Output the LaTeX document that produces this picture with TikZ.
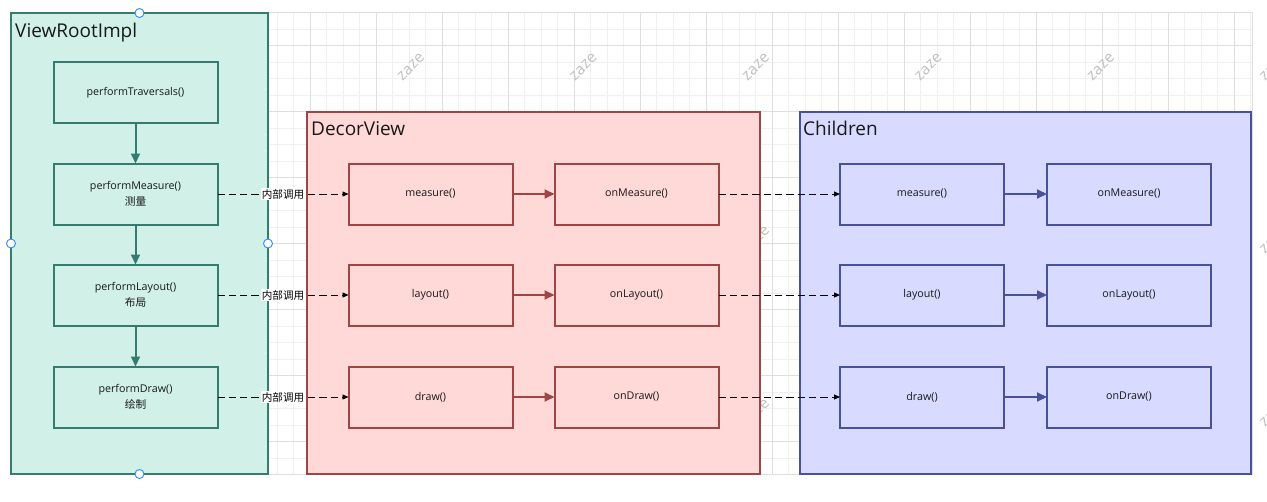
\documentclass[tikz,border=0pt]{standalone}
\usepackage{fontspec}
\setmainfont{Open Sans}
\newfontfamily\cjk{Noto Sans CJK SC}
\usetikzlibrary{arrows.meta}
\definecolor{gfill}{RGB}{208,240,232}
\definecolor{gline}{RGB}{52,125,110}
\definecolor{rfill}{RGB}{255,216,216}
\definecolor{rline}{RGB}{158,70,70}
\definecolor{bfill}{RGB}{216,219,255}
\definecolor{bline}{RGB}{72,82,155}
\definecolor{txt}{RGB}{25,25,25}
\definecolor{gridminor}{RGB}{240,240,240}
\definecolor{gridmajor}{RGB}{222,222,222}
\definecolor{wmark}{RGB}{192,192,192}
\definecolor{handle}{RGB}{40,140,255}
\tikzset{
  outerbox/.style={line width=2pt, minimum width=#1, inner sep=0pt, outer sep=0pt},
  inbox/.style={line width=2pt, minimum width=164pt, minimum height=61pt, inner sep=0pt, outer sep=0pt,
    align=center, text=txt, font=\fontsize{10.7}{15.7}\selectfont},
  gbox/.style={inbox, draw=gline, fill=gfill},
  rbox/.style={inbox, draw=rline, fill=rfill},
  bbox/.style={inbox, draw=bline, fill=bfill},
  title/.style={anchor=base west, inner sep=0pt, text=txt, font=\fontsize{19}{20}\selectfont},
  garrow/.style={draw=gline, line width=2pt, -{Triangle[length=10pt,width=9pt]}},
  rarrow/.style={draw=rline, line width=2pt, -{Triangle[length=10pt,width=9pt]}},
  barrow/.style={draw=bline, line width=2pt, -{Triangle[length=10pt,width=9pt]}},
  callarrow/.style={draw=black, line width=0.9pt, dash pattern=on 7.3pt off 4pt, -{Triangle[length=6pt,width=5pt]}},
  calllabel/.style={fill=white, inner sep=0.8pt, text=black, font=\cjk\fontsize{10.6}{12}\selectfont},
  wm/.style={text=wmark, rotate=45, inner sep=0pt, font=\fontsize{15.5}{15.5}\selectfont},
  handlestyle/.style={circle, draw=handle, fill=white, line width=0.9pt, minimum size=9pt, inner sep=0pt}
}
\begin{document}
\begin{tikzpicture}[x=1pt,y=-1pt]
\useasboundingbox (0,0) rectangle (1267,501);
\fill[white] (0,0) rectangle (1267,501);
% grid
\draw[gridminor, line width=0.8pt] foreach \k in {0,...,75} {({13+16.5*\k},12) -- ({13+16.5*\k},474)};
\draw[gridminor, line width=0.8pt] foreach \k in {0,...,28} {(11,{12.5+16.5*\k}) -- (1252,{12.5+16.5*\k})};
\draw[gridmajor, line width=0.8pt] foreach \k in {0,...,18} {({46+66*\k},12) -- ({46+66*\k},474)};
\draw[gridmajor, line width=0.8pt] foreach \k in {0,...,6} {(11,{45.5+66*\k}) -- (1252,{45.5+66*\k})};
\draw[gridmajor, line width=0.8pt] (11,12) rectangle (1252,474);
% watermarks
\foreach \c in {1,...,6} {\node[wm] (wma\c) at ({238.5+172.5*\c},67) {zaze};}
\node[wm] (wmb3) at (756,240) {zaze};
\node[wm] (wmb6) at (1273.5,240) {zaze};
\node[wm] (wmc3) at (756,413) {zaze};
\node[wm] (wmc6) at (1273.5,413) {zaze};
% containers
\node[outerbox=257pt, minimum height=461pt, draw=gline, fill=gfill] (vri) at (139.5,243.5) {};
\node[outerbox=453pt, minimum height=362pt, draw=rline, fill=rfill] (decor) at (533.5,293) {};
\node[outerbox=451pt, minimum height=362pt, draw=bline, fill=bfill] (children) at (1025.5,293) {};
\node[title] (vrititle) at (15,37) {ViewRootImpl};
\node[title] (decortitle) at (311,135.5) {DecorView};
\node[title] (childtitle) at (803,135.5) {Children};
% ViewRootImpl steps
\node[gbox] (pt) at (135.5,92.5) {performTraversals()};
\node[gbox] (pm) at (135.5,194) {performMeasure()\\{\cjk 测量}};
\node[gbox] (pl) at (135.5,295) {performLayout()\\{\cjk 布局}};
\node[gbox] (pd) at (135.5,397) {performDraw()\\{\cjk 绘制}};
\draw[garrow] (pt) -- (pm);
\draw[garrow] (pm) -- (pl);
\draw[garrow] (pl) -- (pd);
% DecorView
\node[rbox] (dm) at (430.5,194) {measure()};
\node[rbox] (dom) at (636.5,194) {onMeasure()};
\node[rbox] (dl) at (430.5,295) {layout()};
\node[rbox] (dol) at (636.5,295) {onLayout()};
\node[rbox] (dd) at (430.5,397) {draw()};
\node[rbox] (dod) at (636.5,397) {onDraw()};
\draw[rarrow] (dm) -- (dom);
\draw[rarrow] (dl) -- (dol);
\draw[rarrow] (dd) -- (dod);
% Children
\node[bbox] (cm) at (922,194) {measure()};
\node[bbox] (com) at (1129,194) {onMeasure()};
\node[bbox] (cl) at (922,295) {layout()};
\node[bbox] (col) at (1129,295) {onLayout()};
\node[bbox] (cd) at (922,397) {draw()};
\node[bbox] (cod) at (1129,397) {onDraw()};
\draw[barrow] (cm) -- (com);
\draw[barrow] (cl) -- (col);
\draw[barrow] (cd) -- (cod);
% internal calls
\draw[callarrow] (pm) -- node[calllabel] (lbl1) {内部调用} (dm);
\draw[callarrow] (pl) -- node[calllabel] (lbl2) {内部调用} (dl);
\draw[callarrow] (pd) -- node[calllabel] (lbl3) {内部调用} (dd);
\draw[callarrow] (dom) -- (cm);
\draw[callarrow] (dol) -- (cl);
\draw[callarrow] (dod) -- (cd);
% selection handles
\node[handlestyle] (h1) at (139.5,13) {};
\node[handlestyle] (h2) at (11,243.5) {};
\node[handlestyle] (h3) at (268,243.5) {};
\node[handlestyle] (h4) at (139.5,474) {};
\end{tikzpicture}
\end{document}
